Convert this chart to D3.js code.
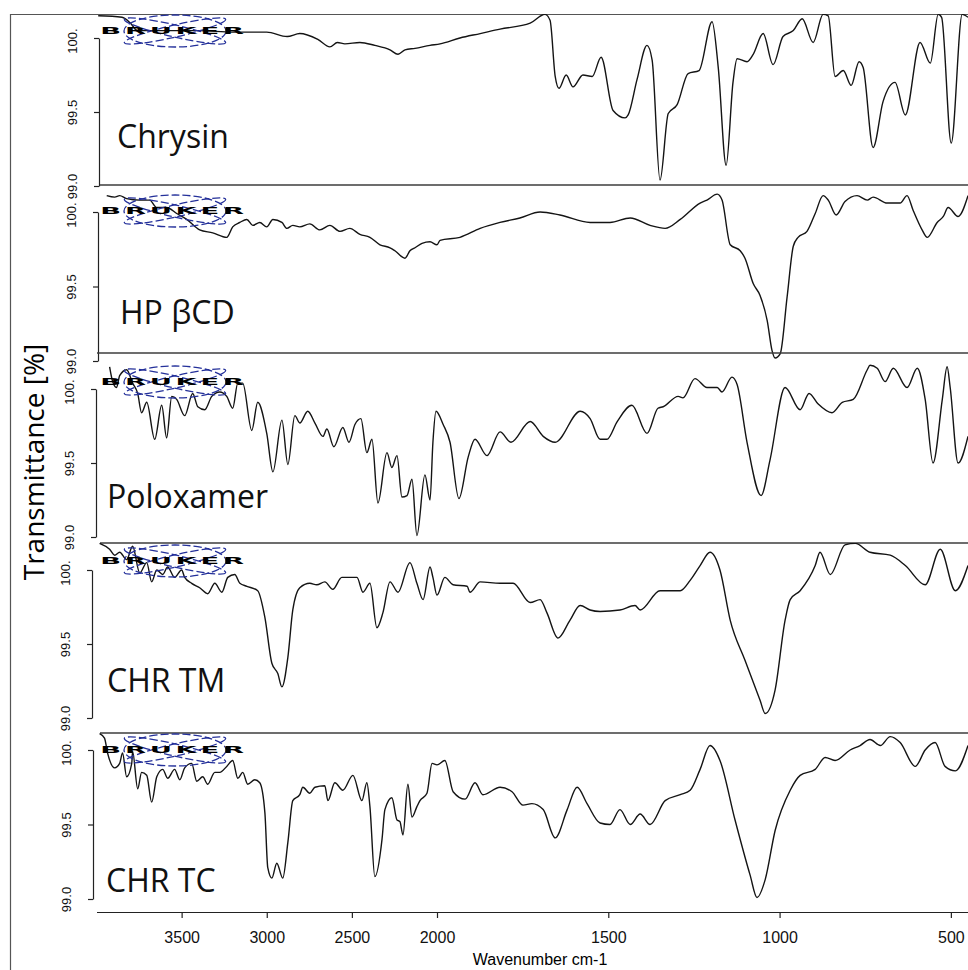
<!DOCTYPE html>
<html lang="en">
<head>
<meta charset="UTF-8">
<title>FTIR spectra</title>
<script src="https://d3js.org/d3.v7.min.js"></script>
<style>
  body { margin: 0; background: #fff; }
  svg { display: block; }
  .frame { stroke: #555; stroke-width: 1.2; fill: none; }
  .sep { stroke: #3c3c3c; stroke-width: 1.6; }
  .spectrum { fill: none; stroke: #141414; stroke-width: 1.4; stroke-linejoin: round; }
  .axis path, .axis line { stroke: #222; stroke-width: 1.2; }
  .axis text { font-family: "Liberation Sans", Arial, sans-serif; fill: #111; }
  .name { font-family: "Open Sans", sans-serif; font-size: 32px; fill: #111; }
  .logo ellipse { fill: none; stroke: #24309a; stroke-width: 1.3; stroke-dasharray: 8 3; }
  .logo text { font-family: "DejaVu Sans", sans-serif; font-weight: bold; font-size: 9px; fill: #000; }
</style>
</head>
<body>
<svg width="968" height="970"></svg>
<script>
// axis ticks and sample names
const wavenumberTicks = [3500, 3000, 2500, 2000, 1500, 1000, 500];
const transTicks = [99.0, 99.5, 100.0];
const sampleNames = ["Chrysin", "HP βCD", "Poloxamer", "CHR TM", "CHR TC"];

// spectra: [wavenumber cm-1, transmittance %]
const chrysin = [
  [3990,100.15],[3850,100.14],[3800,100.10],[3760,100.05],[3600,100.05],[3400,100.05],[3200,100.04],[3117,100.04],
  [3000,100.04],[2880,100.01],[2806,100.03],[2700,99.99],[2629,99.94],[2585,99.97],[2541,99.96],[2453,99.97],
  [2365,99.95],[2276,99.92],[2229,99.89],[2188,99.92],[2129,99.93],[2041,99.95],[1991,99.96],[1933,100.00],
  [1874,100.03],[1816,100.06],[1728,100.10],[1685,100.16],[1670,100.12],[1655,99.74],[1644,99.66],[1623,99.75],
  [1603,99.67],[1574,99.75],[1547,99.74],[1521,99.87],[1486,99.51],[1451,99.46],[1442,99.48],[1416,99.72],
  [1387,99.95],[1372,99.85],[1349,99.04],[1325,99.49],[1299,99.55],[1267,99.76],[1235,99.78],[1197,100.11],
  [1179,99.80],[1156,99.14],[1136,99.70],[1124,99.86],[1095,99.84],[1077,99.89],[1048,100.03],[1019,99.82],
  [990,100.01],[960,100.05],[934,100.13],[902,99.97],[873,100.16],[858,100.15],[838,99.74],[814,99.78],
  [791,99.68],[768,99.84],[756,99.80],[727,99.26],[698,99.57],[663,99.70],[633,99.48],[590,99.97],
  [560,99.83],[537,100.16],[527,100.14],[499,99.29],[467,100.16],[450,100.14]
];
const hpbcd = [
  [3940,100.11],[3893,100.10],[3864,100.11],[3823,100.09],[3746,100.08],[3688,100.08],[3646,100.03],[3588,100.03],
  [3529,99.99],[3470,99.95],[3394,99.88],[3317,99.86],[3235,99.83],[3200,99.90],[3158,99.93],[3117,99.95],
  [3082,99.91],[3041,99.93],[3000,99.90],[2964,99.95],[2911,99.93],[2882,99.89],[2847,99.91],[2806,99.90],
  [2747,99.92],[2688,99.88],[2629,99.91],[2570,99.87],[2512,99.89],[2453,99.85],[2394,99.83],[2335,99.78],
  [2276,99.76],[2247,99.74],[2188,99.69],[2159,99.74],[2129,99.76],[2088,99.79],[2041,99.80],[2000,99.78],
  [1991,99.81],[1933,99.83],[1874,99.89],[1816,99.93],[1758,99.96],[1699,100.00],[1641,99.98],[1553,99.93],
  [1495,99.93],[1436,99.96],[1378,99.91],[1334,99.89],[1290,99.95],[1232,100.06],[1212,100.08],[1182,100.12],
  [1168,100.08],[1144,99.78],[1115,99.74],[1101,99.69],[1077,99.52],[1057,99.44],[1036,99.27],[1022,99.07],
  [1013,99.02],[998,99.05],[978,99.43],[960,99.77],[946,99.83],[920,99.87],[896,99.99],[873,100.11],
  [858,100.08],[835,99.98],[809,100.07],[774,100.11],[744,100.08],[727,100.10],[686,100.06],[648,100.06],
  [628,100.11],[610,100.01],[584,99.88],[569,99.83],[540,99.93],[522,99.97],[508,100.03],[479,99.97],[450,100.11]
];
const poloxamer = [
  [3923,100.15],[3905,100.05],[3882,100.01],[3864,100.09],[3823,100.13],[3788,100.04],[3758,99.97],[3735,99.84],
  [3705,99.91],[3658,99.66],[3617,99.89],[3588,99.67],[3558,99.95],[3529,99.93],[3482,99.82],[3435,99.97],
  [3405,99.88],[3364,99.86],[3323,99.95],[3276,99.98],[3235,99.95],[3200,99.87],[3170,100.04],[3141,100.04],
  [3088,99.72],[3053,99.91],[3000,99.70],[2964,99.44],[2911,99.79],[2876,99.49],[2835,99.82],[2806,99.77],
  [2759,99.85],[2717,99.77],[2670,99.68],[2647,99.73],[2606,99.61],[2553,99.74],[2517,99.64],[2482,99.76],
  [2447,99.80],[2412,99.57],[2382,99.66],[2347,99.23],[2294,99.57],[2265,99.47],[2235,99.55],[2206,99.27],
  [2176,99.28],[2147,99.39],[2118,99.01],[2071,99.42],[2041,99.25],[2024,99.64],[2006,99.85],[1982,99.76],
  [1962,99.64],[1936,99.26],[1909,99.54],[1889,99.66],[1854,99.55],[1816,99.71],[1784,99.64],[1728,99.78],
  [1690,99.68],[1655,99.64],[1582,99.85],[1553,99.80],[1524,99.66],[1504,99.66],[1474,99.78],[1431,99.89],
  [1387,99.70],[1355,99.87],[1340,99.88],[1296,99.95],[1282,99.94],[1247,100.07],[1212,100.01],[1182,100.01],
  [1168,99.98],[1139,100.08],[1124,100.03],[1095,99.64],[1054,99.28],[1028,99.52],[984,100.01],[940,99.86],
  [914,99.97],[888,99.90],[847,99.84],[817,99.91],[785,99.93],[744,100.13],[736,100.16],[715,100.14],
  [692,100.05],[668,100.14],[628,100.01],[598,100.14],[575,99.93],[552,99.50],[525,99.93],[511,100.15],
  [502,100.01],[479,99.50],[450,99.68]
];
const chrTM = [
  [3982,100.18],[3923,100.14],[3893,100.10],[3864,100.12],[3823,100.07],[3788,100.16],[3746,99.98],[3705,100.05],
  [3676,99.92],[3646,100.00],[3611,99.97],[3582,100.02],[3541,99.95],[3500,100.00],[3482,99.95],[3441,99.91],
  [3394,99.88],[3347,99.84],[3305,99.91],[3264,99.85],[3229,99.95],[3188,99.97],[3158,99.91],[3117,99.89],
  [3053,99.86],[3011,99.68],[2970,99.37],[2935,99.30],[2911,99.21],[2876,99.41],[2847,99.73],[2806,99.88],
  [2747,99.91],[2706,99.90],[2659,99.92],[2612,99.87],[2559,99.95],[2523,99.95],[2470,99.95],[2435,99.85],
  [2394,99.91],[2353,99.61],[2318,99.71],[2276,99.92],[2229,99.85],[2159,100.05],[2118,99.91],[2082,99.80],
  [2041,100.02],[2024,99.95],[2000,99.83],[1977,99.95],[1953,99.90],[1912,99.89],[1904,99.85],[1874,99.92],
  [1816,99.91],[1778,99.91],[1728,99.78],[1699,99.80],[1679,99.71],[1647,99.54],[1612,99.66],[1582,99.76],
  [1553,99.73],[1524,99.72],[1466,99.73],[1422,99.76],[1407,99.73],[1349,99.86],[1290,99.86],[1261,99.93],
  [1232,100.03],[1203,100.12],[1174,100.00],[1144,99.66],[1101,99.39],[1057,99.12],[1042,99.03],[1013,99.19],
  [984,99.66],[969,99.80],[940,99.86],[896,100.03],[882,100.12],[852,99.97],[809,100.17],[779,100.18],
  [736,100.12],[677,100.10],[633,100.03],[575,99.90],[531,100.14],[487,99.86],[450,100.03]
];
const chrTC = [
  [3982,100.11],[3953,100.08],[3935,99.98],[3893,99.88],[3864,99.91],[3847,99.98],[3823,99.82],[3793,99.91],
  [3788,99.99],[3758,99.74],[3735,99.85],[3705,99.83],[3676,99.65],[3646,99.82],[3611,99.87],[3582,99.81],
  [3541,99.87],[3511,99.80],[3482,99.88],[3441,99.91],[3411,99.79],[3376,99.82],[3347,99.77],[3305,99.85],
  [3276,99.85],[3235,99.89],[3200,99.93],[3170,99.81],[3141,99.85],[3112,99.77],[3070,99.80],[3041,99.78],
  [3011,99.58],[2994,99.21],[2970,99.14],[2941,99.24],[2906,99.14],[2876,99.38],[2847,99.66],[2806,99.70],
  [2788,99.75],[2747,99.71],[2717,99.75],[2659,99.76],[2641,99.66],[2600,99.78],[2553,99.73],[2494,99.83],
  [2441,99.66],[2412,99.78],[2394,99.62],[2365,99.15],[2323,99.40],[2306,99.60],[2265,99.68],[2235,99.53],
  [2218,99.52],[2200,99.43],[2171,99.77],[2147,99.55],[2118,99.62],[2100,99.66],[2059,99.71],[2029,99.91],
  [2000,99.90],[1977,99.93],[1953,99.72],[1918,99.67],[1889,99.78],[1866,99.70],[1816,99.75],[1781,99.72],
  [1749,99.63],[1723,99.64],[1690,99.60],[1655,99.41],[1620,99.60],[1591,99.75],[1562,99.64],[1524,99.51],
  [1495,99.50],[1466,99.60],[1436,99.50],[1407,99.57],[1378,99.50],[1334,99.66],[1290,99.70],[1261,99.73],
  [1232,99.87],[1203,100.03],[1174,99.93],[1130,99.53],[1086,99.16],[1066,99.01],[1042,99.13],[1013,99.46],
  [969,99.73],[940,99.83],[896,99.87],[867,99.95],[838,99.93],[794,100.00],[765,100.03],[736,100.07],
  [706,100.03],[677,100.09],[648,100.05],[604,99.89],[575,100.00],[546,100.05],[517,99.89],[487,99.86],[450,100.03]
];

const spectra = [chrysin, hpbcd, poloxamer, chrTM, chrTC];

// panel layout (pixels)
const layout = [
  { top: 14,  lineX: 10,  y100: 38,  y99: 186, axisX: 99, logoY: 31,  nameX: 117, nameY: 148 },
  { top: 185, lineX: 100, y100: 212, y99: 361, axisX: 98, logoY: 211, nameX: 120, nameY: 324 },
  { top: 353, lineX: 97,  y100: 389, y99: 537, axisX: 96, logoY: 382, nameX: 107, nameY: 508 },
  { top: 543, lineX: 100, y100: 570, y99: 718, axisX: 92, logoY: 561, nameX: 107, nameY: 692 },
  { top: 733, lineX: 100, y100: 750, y99: 899, axisX: 93, logoY: 750, nameX: 106, nameY: 892 }
];

const svg = d3.select("svg");
const width = +svg.attr("width");
const height = +svg.attr("height");
const defs = svg.append("defs");

// split wavenumber scale, compressed above 2000 cm-1
const x = d3.scaleLinear()
  .domain([4000, 2000, 450])
  .range([96.5, 437, 968]);

// outer frame
svg.append("path").attr("class", "frame")
  .attr("d", `M10.5,${height} V14.5 H${width}`);

layout.forEach((p, i) => {
  const y = d3.scaleLinear().domain([99, 100]).range([p.y99, p.y100]);
  const g = svg.append("g");

  defs.append("clipPath").attr("id", "clip" + i)
    .append("rect")
    .attr("x", 96).attr("y", p.top)
    .attr("width", width - 96).attr("height", p.y99 + 8 - p.top);

  if (i > 0) {
    g.append("line").attr("class", "sep")
      .attr("x1", p.lineX).attr("x2", width)
      .attr("y1", p.top).attr("y2", p.top);
  }

  const line = d3.line()
    .x(d => x(d[0]))
    .y(d => y(d[1]))
    .curve(d3.curveMonotoneX);

  g.append("path").datum(spectra[i])
    .attr("class", "spectrum")
    .attr("clip-path", `url(#clip${i})`)
    .attr("d", line);

  // y axis with rotated labels
  const ax = g.append("g").attr("class", "axis")
    .attr("transform", `translate(${p.axisX},0)`)
    .call(d3.axisLeft(y).tickValues(transTicks).tickSize(5).tickSizeOuter(0));
  ax.selectAll(".tick text")
    .attr("x", null).attr("dy", null)
    .attr("text-anchor", "middle")
    .style("font-size", "13px")
    .attr("transform", d => `translate(-22,${d === 100 ? 2.5 : 0}) rotate(-90)`)
    .text(d => d === 100 ? "100." : d.toFixed(1));

  // Bruker logo
  const logo = g.append("g").attr("class", "logo")
    .attr("transform", `translate(175,${p.logoY})`);
  logo.append("ellipse").attr("rx", 51).attr("ry", 16);
  logo.append("ellipse").attr("rx", 52).attr("ry", 6).attr("transform", "rotate(13)");
  logo.append("ellipse").attr("rx", 52).attr("ry", 6).attr("transform", "rotate(-13)");
  logo.append("text")
    .attr("text-anchor", "middle")
    .attr("dominant-baseline", "central")
    .attr("letter-spacing", 1.2)
    .attr("transform", "translate(-1,0) scale(3.05,1)")
    .text("BRUKER");

  g.append("text").attr("class", "name")
    .attr("x", p.nameX).attr("y", p.nameY)
    .text(sampleNames[i]);
});

// bottom wavenumber axis
const xAxis = svg.append("g").attr("class", "axis")
  .attr("transform", "translate(0,912)")
  .call(d3.axisBottom(x).tickValues(wavenumberTicks).tickSize(6).tickSizeOuter(0).tickPadding(14)
    .tickFormat(d3.format("d")));
xAxis.selectAll(".tick text").style("font-size", "16px");

svg.append("text")
  .attr("x", 540).attr("y", 965)
  .attr("text-anchor", "middle")
  .style("font-family", "'Liberation Sans', Arial, sans-serif")
  .style("font-size", "16px")
  .text("Wavenumber cm-1");

svg.append("text")
  .attr("transform", "translate(44,462) rotate(-90)")
  .attr("text-anchor", "middle")
  .style("font-family", "'Open Sans', sans-serif")
  .style("font-size", "28px")
  .text("Transmittance [%]");
</script>
</body>
</html>
